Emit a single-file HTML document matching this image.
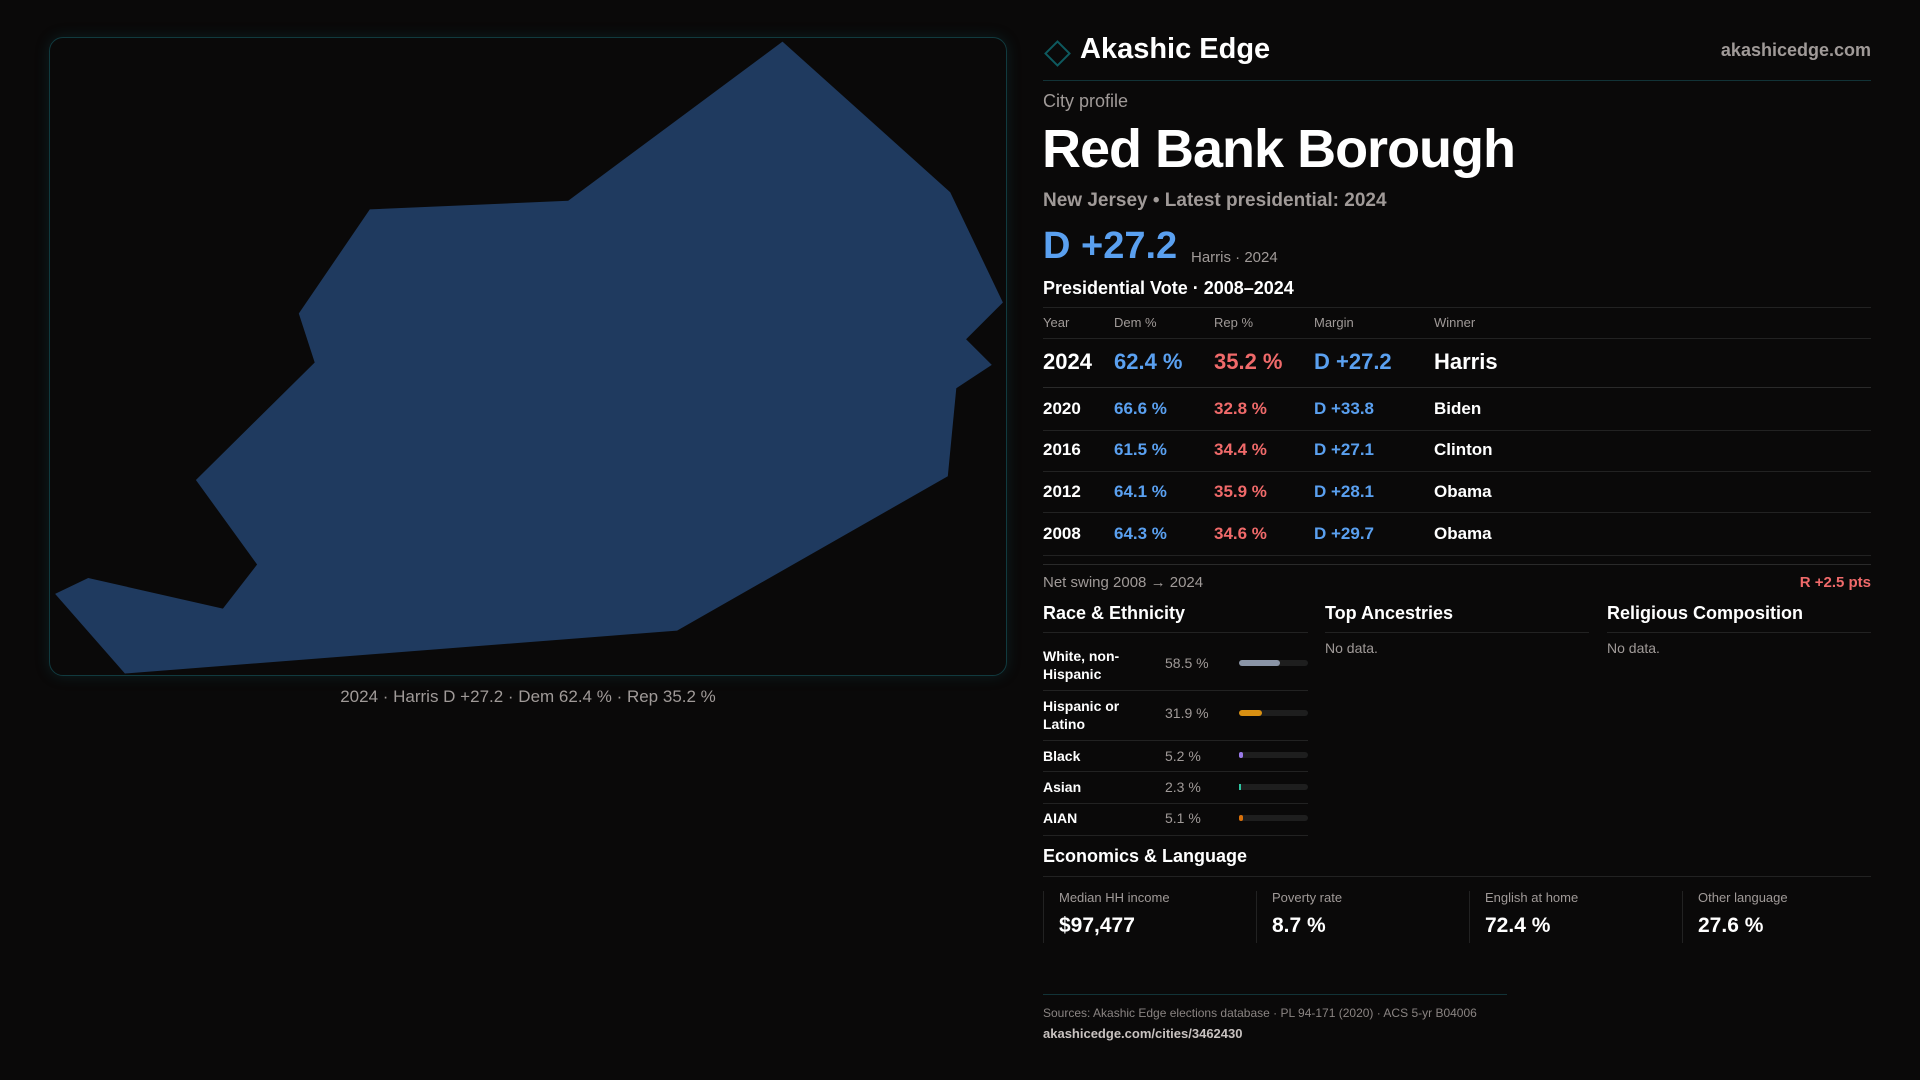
<!DOCTYPE html>
<html><head><meta charset="utf-8"><style>
*{margin:0;padding:0;box-sizing:border-box}
body{width:1920px;height:1080px;background:#0a0909;font-family:"Liberation Sans",sans-serif;color:#fff;position:relative;overflow:hidden}
.a{position:absolute;white-space:nowrap;line-height:1}
.g{color:#a09a98}
.b{color:#5aa0f0}.r{color:#f06a6a}
.hl{position:absolute;height:1px;background:#222}
</style></head><body>
<div class="a" style="left:49px;top:37px;width:958px;height:639px;border:1px solid #113a3f;border-radius:14px;box-shadow:0 0 14px rgba(20,90,100,.25)"></div>
<svg class="a" style="left:0;top:0" width="1920" height="1080"><polygon fill="#1f3a5f" points="782.5,41.6 950.2,192.2 1002.9,302.5 966.1,339.2 991.8,364.9 956.3,388.2 947.8,476.3 677.1,630.6 124.9,673.5 55.1,593.9 88.2,578 222.9,608.6 257.1,564.5 195.9,480 314.7,362.5 298.8,313.5 369.8,209.4 568.2,200.8"/></svg>
<div class="a g" style="left:0;width:1056px;text-align:center;top:688px;font-size:17px">2024 · Harris D +27.2 · Dem 62.4 % · Rep 35.2 %</div>

<div class="a" style="left:1048px;top:44px;width:19px;height:19px;border:2px solid #0e5a5f;transform:rotate(45deg)"></div>
<div class="a" style="left:1080px;top:35px;font-size:29px;font-weight:bold">Akashic Edge</div>
<div class="a g" style="right:49px;top:41px;font-size:18px;font-weight:bold">akashicedge.com</div>
<div class="hl" style="left:1043px;width:828px;top:80px;background:#123337"></div>
<div class="a g" style="left:1043px;top:92px;font-size:18px">City profile</div>
<div class="a" style="left:1042px;top:122px;font-size:54px;font-weight:bold;letter-spacing:-1px">Red Bank Borough</div>
<div class="a g" style="left:1043px;top:191px;font-size:19px;font-weight:bold">New Jersey • Latest presidential: 2024</div>
<div class="a b" style="left:1043px;top:227px;font-size:38px;font-weight:bold">D +27.2</div>
<div class="a g" style="left:1191px;top:250px;font-size:15px">Harris · 2024</div>
<div class="a" style="left:1043px;top:279px;font-size:18px;font-weight:bold">Presidential Vote · 2008–2024</div>
<div class="hl" style="left:1043px;width:828px;top:307px"></div>
<div class="a g" style="left:1043px;top:316px;font-size:13px">Year</div>
<div class="a g" style="left:1114px;top:316px;font-size:13px">Dem %</div>
<div class="a g" style="left:1214px;top:316px;font-size:13px">Rep %</div>
<div class="a g" style="left:1314px;top:316px;font-size:13px">Margin</div>
<div class="a g" style="left:1434px;top:316px;font-size:13px">Winner</div>
<div class="hl" style="left:1043px;width:828px;top:338px"></div>
<div class="a" style="left:1043px;top:351px;font-size:22px;font-weight:bold">2024</div>
<div class="a b" style="left:1114px;top:351px;font-size:22px;font-weight:bold">62.4 %</div>
<div class="a r" style="left:1214px;top:351px;font-size:22px;font-weight:bold">35.2 %</div>
<div class="a b" style="left:1314px;top:351px;font-size:22px;font-weight:bold">D +27.2</div>
<div class="a" style="left:1434px;top:351px;font-size:22px;font-weight:bold">Harris</div>
<div class="hl" style="left:1043px;width:828px;top:387px;background:#2a2a2a"></div>

<div class="a" style="left:1043px;top:400px;font-size:17px;font-weight:bold">2020</div><div class="a b" style="left:1114px;top:400px;font-size:17px;font-weight:bold">66.6 %</div><div class="a r" style="left:1214px;top:400px;font-size:17px;font-weight:bold">32.8 %</div><div class="a b" style="left:1314px;top:400px;font-size:17px;font-weight:bold">D +33.8</div><div class="a" style="left:1434px;top:400px;font-size:17px;font-weight:bold">Biden</div>
<div class="hl" style="left:1043px;width:828px;top:430px"></div>
<div class="a" style="left:1043px;top:441px;font-size:17px;font-weight:bold">2016</div><div class="a b" style="left:1114px;top:441px;font-size:17px;font-weight:bold">61.5 %</div><div class="a r" style="left:1214px;top:441px;font-size:17px;font-weight:bold">34.4 %</div><div class="a b" style="left:1314px;top:441px;font-size:17px;font-weight:bold">D +27.1</div><div class="a" style="left:1434px;top:441px;font-size:17px;font-weight:bold">Clinton</div>
<div class="hl" style="left:1043px;width:828px;top:471px"></div>
<div class="a" style="left:1043px;top:483px;font-size:17px;font-weight:bold">2012</div><div class="a b" style="left:1114px;top:483px;font-size:17px;font-weight:bold">64.1 %</div><div class="a r" style="left:1214px;top:483px;font-size:17px;font-weight:bold">35.9 %</div><div class="a b" style="left:1314px;top:483px;font-size:17px;font-weight:bold">D +28.1</div><div class="a" style="left:1434px;top:483px;font-size:17px;font-weight:bold">Obama</div>
<div class="hl" style="left:1043px;width:828px;top:512px"></div>
<div class="a" style="left:1043px;top:525px;font-size:17px;font-weight:bold">2008</div><div class="a b" style="left:1114px;top:525px;font-size:17px;font-weight:bold">64.3 %</div><div class="a r" style="left:1214px;top:525px;font-size:17px;font-weight:bold">34.6 %</div><div class="a b" style="left:1314px;top:525px;font-size:17px;font-weight:bold">D +29.7</div><div class="a" style="left:1434px;top:525px;font-size:17px;font-weight:bold">Obama</div>
<div class="hl" style="left:1043px;width:828px;top:555px"></div>
<div class="hl" style="left:1043px;width:828px;top:564px;background:#2a2a2a"></div>
<div class="a g" style="left:1043px;top:575px;font-size:15px">Net swing 2008 → 2024</div>
<div class="a r" style="right:49px;top:575px;font-size:15px;font-weight:bold">R +2.5 pts</div>

<div class="a" style="left:1043px;top:604px;font-size:18px;font-weight:bold">Race &amp; Ethnicity</div>
<div class="a" style="left:1325px;top:604px;font-size:18px;font-weight:bold">Top Ancestries</div>
<div class="a" style="left:1607px;top:604px;font-size:18px;font-weight:bold">Religious Composition</div>
<div class="hl" style="left:1043px;width:265px;top:632px"></div>
<div class="hl" style="left:1325px;width:264px;top:632px"></div>
<div class="hl" style="left:1607px;width:264px;top:632px"></div>
<div class="a g" style="left:1325px;top:641px;font-size:14px">No data.</div>
<div class="a g" style="left:1607px;top:641px;font-size:14px">No data.</div>

<div class="a" style="left:1043px;top:647px;font-size:14px;font-weight:bold;line-height:18px">White, non-<br>Hispanic</div>
<div class="a g" style="left:1165px;top:656px;font-size:14px">58.5 %</div>
<div class="a" style="left:1239px;top:660px;width:69px;height:6px;border-radius:3px;background:#1e1e1e"><div style="width:41px;height:6px;border-radius:3px;background:#8a94a6"></div></div>
<div class="hl" style="left:1043px;width:265px;top:690px"></div>
<div class="a" style="left:1043px;top:697px;font-size:14px;font-weight:bold;line-height:18px">Hispanic or<br>Latino</div>
<div class="a g" style="left:1165px;top:706px;font-size:14px">31.9 %</div>
<div class="a" style="left:1239px;top:710px;width:69px;height:6px;border-radius:3px;background:#1e1e1e"><div style="width:23px;height:6px;border-radius:3px;background:#d99012"></div></div>
<div class="hl" style="left:1043px;width:265px;top:740px"></div>
<div class="a" style="left:1043px;top:749px;font-size:14px;font-weight:bold">Black</div>
<div class="a g" style="left:1165px;top:749px;font-size:14px">5.2 %</div>
<div class="a" style="left:1239px;top:752px;width:69px;height:6px;border-radius:3px;background:#1e1e1e"><div style="width:4px;height:6px;border-radius:3px;background:#9a7ae8"></div></div>
<div class="hl" style="left:1043px;width:265px;top:771px"></div>
<div class="a" style="left:1043px;top:780px;font-size:14px;font-weight:bold">Asian</div>
<div class="a g" style="left:1165px;top:780px;font-size:14px">2.3 %</div>
<div class="a" style="left:1239px;top:784px;width:69px;height:6px;border-radius:3px;background:#1e1e1e"><div style="width:2px;height:6px;background:#2ec4a0"></div></div>
<div class="hl" style="left:1043px;width:265px;top:803px"></div>
<div class="a" style="left:1043px;top:811px;font-size:14px;font-weight:bold">AIAN</div>
<div class="a g" style="left:1165px;top:811px;font-size:14px">5.1 %</div>
<div class="a" style="left:1239px;top:815px;width:69px;height:6px;border-radius:3px;background:#1e1e1e"><div style="width:4px;height:6px;border-radius:3px;background:#d9700a"></div></div>
<div class="hl" style="left:1043px;width:265px;top:835px"></div>

<div class="a" style="left:1043px;top:847px;font-size:18px;font-weight:bold">Economics &amp; Language</div>
<div class="hl" style="left:1043px;width:828px;top:876px"></div>
<div class="a" style="left:1043px;top:891px;height:52px;border-left:1px solid #222;padding-left:15px"><div class="g" style="font-size:13px">Median HH income</div><div style="font-size:21px;font-weight:bold;margin-top:11px">$97,477</div></div>
<div class="a" style="left:1256px;top:891px;height:52px;border-left:1px solid #222;padding-left:15px"><div class="g" style="font-size:13px">Poverty rate</div><div style="font-size:21px;font-weight:bold;margin-top:11px">8.7 %</div></div>
<div class="a" style="left:1469px;top:891px;height:52px;border-left:1px solid #222;padding-left:15px"><div class="g" style="font-size:13px">English at home</div><div style="font-size:21px;font-weight:bold;margin-top:11px">72.4 %</div></div>
<div class="a" style="left:1682px;top:891px;height:52px;border-left:1px solid #222;padding-left:15px"><div class="g" style="font-size:13px">Other language</div><div style="font-size:21px;font-weight:bold;margin-top:11px">27.6 %</div></div>

<div class="hl" style="left:1043px;width:464px;top:994px;background:#123337"></div>
<div class="a g" style="left:1043px;top:1007px;font-size:12px;color:#8a8482">Sources: Akashic Edge elections database · PL 94-171 (2020) · ACS 5-yr B04006</div>
<div class="a" style="left:1043px;top:1027px;font-size:13px;color:#c8c2c0;font-weight:bold">akashicedge.com/cities/3462430</div>
</body></html>
